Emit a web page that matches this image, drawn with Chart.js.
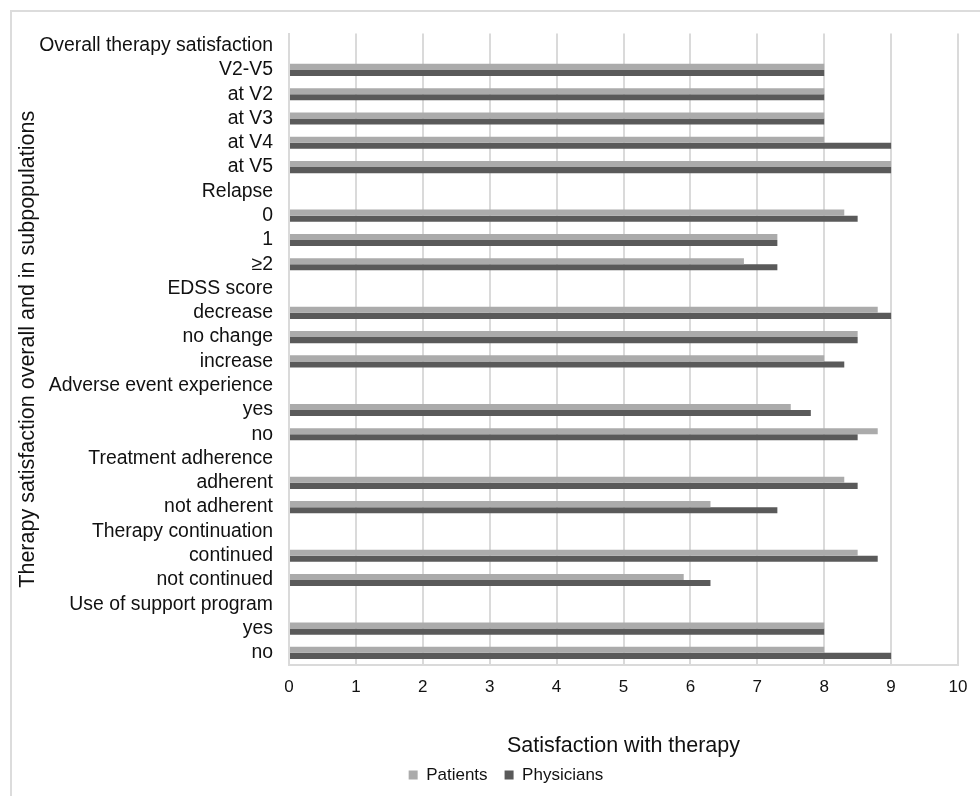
<!DOCTYPE html>
<html>
<head>
<meta charset="utf-8">
<script src="https://cdn.jsdelivr.net/npm/chart.js@4.4.1/dist/chart.umd.min.js"></script>
<style>
    html, body { margin: 0; padding: 0; background: #fff; }
    #wrap { position: relative; width: 980px; height: 796px; overflow: hidden; }
    #frame {
        position: absolute; left: 10px; top: 10px; right: -4px; bottom: -4px;
        border-top: 2px solid #dcdcdc; border-left: 2px solid #dcdcdc;
    }
    canvas { position: absolute; left: 0; top: 0; }
</style>
</head>
<body>
<div id="wrap">
    <div id="frame"></div>
    <canvas id="satChart" width="980" height="796"></canvas>
</div>
<script>
// ------- data -------------------------------

const categories = [
    'Overall therapy satisfaction', 'V2-V5', 'at V2', 'at V3', 'at V4', 'at V5',
    'Relapse', '0', '1', '≥2',
    'EDSS score', 'decrease', 'no change', 'increase',
    'Adverse event experience', 'yes', 'no',
    'Treatment adherence', 'adherent', 'not adherent',
    'Therapy continuation', 'continued', 'not continued',
    'Use of support program', 'yes', 'no'
];

// null = group header row (no bar)
const patients = [
    null, 8, 8, 8, 8, 9,
    null, 8.3, 7.3, 6.8,
    null, 8.8, 8.5, 8.0,
    null, 7.5, 8.8,
    null, 8.3, 6.3,
    null, 8.5, 5.9,
    null, 8, 8
];

const physicians = [
    null, 8, 8, 8, 9, 9,
    null, 8.5, 7.3, 7.3,
    null, 9.0, 8.5, 8.3,
    null, 7.8, 8.5,
    null, 8.5, 7.3,
    null, 8.8, 6.3,
    null, 8, 9
];

const xMin = 0;
const xMax = 10;
const xStep = 1;

const seriesNames = ['Patients', 'Physicians'];
const fontFamily = '"Liberation Sans", Arial, sans-serif';

// keep the legend box short (wide item gap would make it tall)
// and move it a little right / up like in the figure
const legendTweak = {
    id: 'legendTweak',
    beforeLayout(chart) {
        const lg = chart.legend;
        if (lg && !lg._fitPatched) {
            const origFit = lg.fit;
            lg.fit = function () {
                origFit.call(this);
                this.height = 36.5;
            };
            lg._fitPatched = true;
        }
    },
    afterLayout(chart) {
        const lg = chart.legend;
        lg.left += 22;
        lg.right += 22;
        lg.top -= 9;
        lg.bottom -= 9;
    }
};

const chartElement = document.getElementById('satChart');

const satChart = new Chart(chartElement, {
    type: 'bar',
    data: {
        labels: categories,
        datasets: [{
            label: seriesNames[0],
            data: patients,
            backgroundColor: '#ababab',
            categoryPercentage: 0.5,
            barPercentage: 1.0
        }, {
            label: seriesNames[1],
            data: physicians,
            backgroundColor: '#5a5a5a',
            categoryPercentage: 0.5,
            barPercentage: 1.0
        }]
    },
    options: {
        indexAxis: 'y',
        responsive: false,
        maintainAspectRatio: false,
        animation: false,
        layout: {
            padding: { left: 10, top: 33.5, right: 22, bottom: 1 }
        },
        scales: {
            x: {
                min: xMin,
                max: xMax,
                ticks: {
                    stepSize: xStep,
                    padding: 12,
                    color: '#111',
                    font: { family: fontFamily, size: 17 }
                },
                grid: { color: '#dadada', lineWidth: 2, drawTicks: false },
                border: { color: '#dadada', width: 2 },
                title: {
                    display: true,
                    text: 'Satisfaction with therapy',
                    color: '#111',
                    font: { family: fontFamily, size: 21.5 },
                    padding: { top: 0, bottom: 0 }
                },
                afterFit: scale => { scale.height = 93.5; }
            },
            y: {
                ticks: {
                    autoSkip: false,
                    padding: 8,
                    color: '#111',
                    font: { family: fontFamily, size: 19.4 }
                },
                grid: { display: false },
                border: { color: '#dadada', width: 2 },
                title: {
                    display: true,
                    text: 'Therapy satisfaction overall and in subpopulations',
                    color: '#111',
                    font: { family: fontFamily, size: 21.5 },
                    padding: { top: 5, bottom: 0 }
                },
                afterFit: scale => { scale.width = 279; }
            }
        },
        plugins: {
            legend: {
                position: 'bottom',
                labels: {
                    boxWidth: 9,
                    boxHeight: 9,
                    padding: 17,
                    color: '#111',
                    font: { family: fontFamily, size: 17 }
                }
            },
            tooltip: { enabled: false }
        }
    },
    plugins: [legendTweak]
});
</script>
</body>
</html>
